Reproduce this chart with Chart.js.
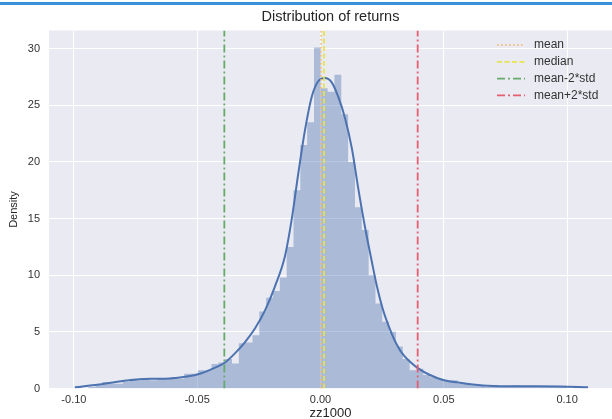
<!DOCTYPE html>
<html>
<head>
<meta charset="utf-8">
<script src="https://cdn.jsdelivr.net/npm/chart.js@4"></script>
<style>
  html, body { margin: 0; padding: 0; background: #fff; overflow: hidden; }
  #wrap { position: relative; width: 612px; height: 419px; }
  #topBar { position: absolute; left: 0; top: 2px; width: 612px; height: 3px; background: #3a8fd9; }
  canvas { position: absolute; left: 0; top: 0; }
</style>
</head>
<body>
<div id="wrap">
  <canvas id="chart" width="612" height="419"></canvas>
  <div id="topBar"></div>
</div>
<script>
// histogram (density per bin), bins start at histStart with width histWidth
const histStart = -0.0996;
const histWidth = 0.00277;
const histDensity = [
  0.14, 0.00, 0.14, 0.29, 0.58, 0.43, 0.43, 0.58, 0.87, 0.72,
  0.87, 0.72, 0.87, 0.87, 1.01, 0.87, 1.30, 1.30, 1.60, 1.59,
  2.17, 2.30, 2.60, 2.20, 4.00, 4.05, 4.70, 6.80, 8.00, 8.60,
  9.80, 12.5, 17.5, 21.5, 23.5, 30.1, 26.5, 26.2, 27.7, 24.2,
  20.0, 16.0, 14.0, 10.0, 7.50, 5.90, 5.00, 3.70, 2.60, 1.60,
  1.75, 1.20, 1.00, 0.85, 0.72, 0.72, 0.43, 0.43, 0.29, 0.29,
  0.14, 0.29, 0.14, 0.14, 0.29, 0.14, 0.14, 0.14, 0.14, 0.14,
  0.14, 0.14, 0.00, 0.14, 0.14
];

// kde curve
const kdeX = [-0.0996, -0.0882, -0.0785, -0.0691, -0.0610, -0.0541, -0.0489, -0.0436, -0.0387, -0.0347,
  -0.0306, -0.0266, -0.0225, -0.0185, -0.0144, -0.0117, -0.0090, -0.0063, -0.0035, -0.0010,
  0.0018, 0.0046, 0.0071, 0.0099, 0.0128, 0.0152, 0.0180, 0.0209, 0.0229, 0.0254,
  0.0282, 0.0310, 0.0336, 0.0363, 0.0396, 0.0444, 0.0497, 0.0566, 0.0659, 0.0768, 0.0971, 0.1085];
const kdeY = [0.10, 0.40, 0.70, 0.85, 0.88, 1.05, 1.30, 1.75, 2.30, 3.10,
  4.10, 5.30, 6.90, 9.00, 11.7, 14.9, 19.0, 22.8, 25.8, 27.1,
  27.4, 27.0, 25.8, 23.9, 21.1, 17.8, 14.3, 11.1, 9.00, 6.90,
  5.20, 3.84, 2.96, 2.37, 1.78, 1.19, 0.75, 0.50, 0.27, 0.20, 0.18, 0.12];

// summary lines
const statLabels = ["mean", "median", "mean-2*std", "mean+2*std"];
const statValues = [0.0002, 0.0014, -0.0390, 0.0394];
const statColors = ["rgba(245,185,110,0.85)", "rgba(232,228,70,0.95)", "#66ab6c", "#e65d70"];
const statDashes = [[1.5, 2.5], [5, 2.5], [8, 3, 2, 3], [8, 3, 2, 3]];

const xTicks = [-0.10, -0.05, 0.00, 0.05, 0.10];
const yTicks = [0, 5, 10, 15, 20, 25, 30];
const xMin = -0.1101, xMax = 0.1182, yMax = 31.6;

// outline of the histogram as one stepped shape (left edge of each bin holds its height)
const histPoints = [{ x: histStart, y: 0 }];
histDensity.forEach((d, i) => histPoints.push({ x: histStart + i * histWidth, y: d }));
histPoints.push({ x: histStart + histDensity.length * histWidth, y: 0 });

const kdePoints = kdeX.map((x, i) => ({ x: x, y: kdeY[i] }));

const FONT = "'Liberation Sans', Arial, sans-serif";

const datasets = [
  {
    data: histPoints,
    backgroundColor: "rgba(76,114,176,0.4)",
    borderWidth: 0,
    borderColor: "rgba(0,0,0,0)",
    stepped: true,
    pointRadius: 0,
    fill: "origin",
    order: 10
  },
  {
    data: kdePoints,
    borderColor: "#4c72b0",
    borderWidth: 2,
    pointRadius: 0,
    cubicInterpolationMode: "monotone",
    fill: false,
    order: 5
  }
];
statValues.forEach((v, i) => {
  datasets.push({
    label: statLabels[i],
    data: [{ x: v, y: 0 }, { x: v, y: yMax }],
    borderColor: statColors[i],
    borderDash: statDashes[i],
    borderWidth: 1.8,
    pointRadius: 0,
    fill: false,
    order: 1,
    isStat: true
  });
});

// plot background
const bgPlugin = {
  id: "bg",
  beforeDraw(chart) {
    const { ctx, chartArea: a } = chart;
    ctx.save();
    ctx.fillStyle = "#eaeaf2";
    ctx.fillRect(a.left, a.top, a.right - a.left, a.bottom - a.top);
    ctx.restore();
  }
};

// legend like matplotlib: short styled line + label
const legendPlugin = {
  id: "statLegend",
  afterDatasetsDraw(chart) {
    const ctx = chart.ctx;
    const rows = chart.data.datasets.filter(d => d.isStat);
    ctx.save();
    ctx.font = "12px " + FONT;
    ctx.textBaseline = "middle";
    rows.forEach((d, i) => {
      const y = 45 + i * 16.8;
      ctx.strokeStyle = d.borderColor;
      ctx.lineWidth = d.borderWidth;
      ctx.setLineDash(d.borderDash);
      ctx.beginPath();
      ctx.moveTo(497, y);
      ctx.lineTo(525, y);
      ctx.stroke();
      ctx.setLineDash([]);
      ctx.fillStyle = "#333";
      ctx.fillText(d.label, 534, y);
    });
    ctx.restore();
  }
};

new Chart(document.getElementById("chart"), {
  type: "line",
  data: { datasets: datasets },
  plugins: [bgPlugin, legendPlugin],
  options: {
    responsive: false,
    animation: false,
    layout: { padding: { left: 0, right: 0, top: 0, bottom: 0 } },
    plugins: {
      legend: { display: false },
      tooltip: { enabled: false },
      title: {
        display: true,
        fullSize: false,
        text: "Distribution of returns",
        color: "#262626",
        font: { family: FONT, size: 14.5, weight: "normal" },
        padding: { top: 8, bottom: 5.1 }
      }
    },
    scales: {
      x: {
        type: "linear",
        min: xMin,
        max: xMax,
        offset: false,
        afterFit(s) { s.height = 30.5; },
        afterBuildTicks(s) { s.ticks = xTicks.map(v => ({ value: v })); },
        grid: { color: "#ffffff", lineWidth: 1, drawTicks: false },
        border: { display: false },
        ticks: {
          color: "#333",
          padding: 5,
          font: { family: FONT, size: 11 },
          callback: v => v.toFixed(2)
        },
        title: {
          display: true,
          text: "zz1000",
          color: "#262626",
          padding: { top: 0, bottom: -2.5 },
          font: { family: FONT, size: 13 }
        }
      },
      y: {
        min: 0,
        max: yMax,
        afterFit(s) { s.width = 49; },
        afterBuildTicks(s) { s.ticks = yTicks.map(v => ({ value: v })); },
        grid: { color: "#ffffff", lineWidth: 1, drawTicks: false },
        border: { display: false },
        ticks: {
          color: "#333",
          padding: 9,
          font: { family: FONT, size: 11 }
        },
        title: {
          display: true,
          text: "Density",
          color: "#262626",
          padding: { top: 7.5, bottom: 0 },
          font: { family: FONT, size: 11 }
        }
      }
    }
  }
});
</script>
</body>
</html>
